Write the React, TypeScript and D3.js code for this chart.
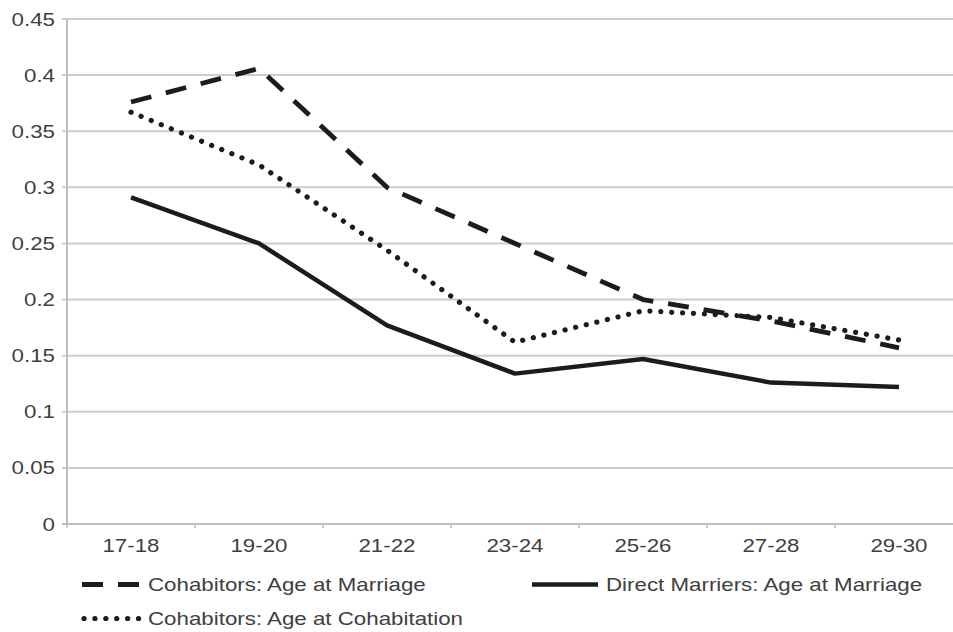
import React, { useEffect, useRef } from 'react';
import * as d3 from 'd3';

const categories = ['17-18', '19-20', '21-22', '23-24', '25-26', '27-28', '29-30'];
const yTicks = [0, 0.05, 0.1, 0.15, 0.2, 0.25, 0.3, 0.35, 0.4, 0.45];

const cohabMarriage = [0.376, 0.406, 0.3, 0.25, 0.2, 0.181, 0.157];
const cohabCohabitation = [0.367, 0.32, 0.244, 0.162, 0.19, 0.184, 0.164];
const directMarriage = [0.291, 0.25, 0.177, 0.134, 0.147, 0.126, 0.122];

const seriesNames = [
  'Cohabitors: Age at Marriage',
  'Direct Marriers: Age at Marriage',
  'Cohabitors: Age at Cohabitation',
];

const W = 953;
const H = 632;
const FONT = '"Liberation Sans", Arial, sans-serif';
const STRETCH = 1.24;

export default function App() {
  const svgRef = useRef<SVGSVGElement>(null);

  useEffect(() => {
    if (!svgRef.current) return;
    const svg = d3.select(svgRef.current);
    svg.selectAll('*').remove();

    const left = 67;
    const top = 19;
    const bottom = 524;

    const x = d3.scaleBand().domain(categories).range([left, left + 7 * 128]);
    const y = d3.scaleLinear().domain([0, 0.45]).range([bottom, top]);
    const cx = (i: number) => (x(categories[i]) || 0) + x.bandwidth() / 2;

    // gridlines
    svg.append('g')
      .selectAll('line')
      .data(yTicks.filter(t => t > 0))
      .enter()
      .append('line')
      .attr('x1', left - 5)
      .attr('x2', W)
      .attr('y1', d => y(d))
      .attr('y2', d => y(d))
      .attr('stroke', '#cdcdcd')
      .attr('stroke-width', 2);

    // y axis line
    svg.append('line')
      .attr('x1', left).attr('x2', left)
      .attr('y1', top).attr('y2', bottom)
      .attr('stroke', '#bdbdbd').attr('stroke-width', 2);

    // x axis line + ticks
    svg.append('line')
      .attr('x1', left - 5).attr('x2', W)
      .attr('y1', bottom).attr('y2', bottom)
      .attr('stroke', '#bdbdbd').attr('stroke-width', 2);

    svg.append('g')
      .selectAll('line')
      .data(categories)
      .enter()
      .append('line')
      .attr('x1', d => x(d) || 0)
      .attr('x2', d => x(d) || 0)
      .attr('y1', bottom)
      .attr('y2', bottom + 4)
      .attr('stroke', '#bdbdbd')
      .attr('stroke-width', 1.5);

    // y tick labels
    svg.append('g')
      .selectAll('text')
      .data(yTicks)
      .enter()
      .append('text')
      .attr('transform', d => `translate(55,${y(d) + 6.5}) scale(${STRETCH},1)`)
      .attr('text-anchor', 'end')
      .attr('font-family', FONT)
      .attr('font-size', 18)
      .attr('fill', '#404040')
      .text(d => String(d));

    // x tick labels
    svg.append('g')
      .selectAll('text')
      .data(categories)
      .enter()
      .append('text')
      .attr('transform', (_d, i) => `translate(${cx(i)},552) scale(${STRETCH},1)`)
      .attr('text-anchor', 'middle')
      .attr('font-family', FONT)
      .attr('font-size', 18)
      .attr('fill', '#404040')
      .text(d => d);

    const line = d3.line<number>()
      .x((_d, i) => cx(i))
      .y(d => y(d));

    const styles = [
      { data: cohabMarriage, dash: '21 15', cap: 'butt', width: 4.8 },
      { data: directMarriage, dash: null, cap: 'butt', width: 4.5 },
      { data: cohabCohabitation, dash: '0.1 10.8', cap: 'round', width: 5.2 },
    ];

    styles.forEach(s => {
      svg.append('path')
        .datum(s.data)
        .attr('d', line)
        .attr('fill', 'none')
        .attr('stroke', '#1c1c1c')
        .attr('stroke-width', s.width)
        .attr('stroke-linecap', s.cap)
        .attr('stroke-linejoin', 'round')
        .attr('stroke-dasharray', s.dash);
    });

    // legend
    const legendItems = [
      { x: 82, y: 584.5, len: 58, s: styles[0], name: seriesNames[0] },
      { x: 532, y: 584.5, len: 66, s: styles[1], name: seriesNames[1] },
      { x: 84, y: 618.5, len: 58, s: styles[2], name: seriesNames[2] },
    ];
    const lg = svg.append('g');
    legendItems.forEach(item => {
      lg.append('line')
        .attr('x1', item.x).attr('x2', item.x + item.len)
        .attr('y1', item.y).attr('y2', item.y)
        .attr('stroke', '#1c1c1c')
        .attr('stroke-width', item.s.width)
        .attr('stroke-linecap', item.s.cap)
        .attr('stroke-dasharray', item.s.dash);
      lg.append('text')
        .attr('transform', `translate(${item.x + item.len + (item.s.cap === 'round' ? 6 : 8)},${item.y + 6.5}) scale(${STRETCH},1)`)
        .attr('font-family', FONT)
        .attr('font-size', 18)
        .attr('fill', '#404040')
        .text(item.name);
    });
  }, []);

  return (
    <svg
      ref={svgRef}
      width={W}
      height={H}
      style={{ position: 'absolute', left: 0, top: 0, background: '#fff' }}
    />
  );
}
